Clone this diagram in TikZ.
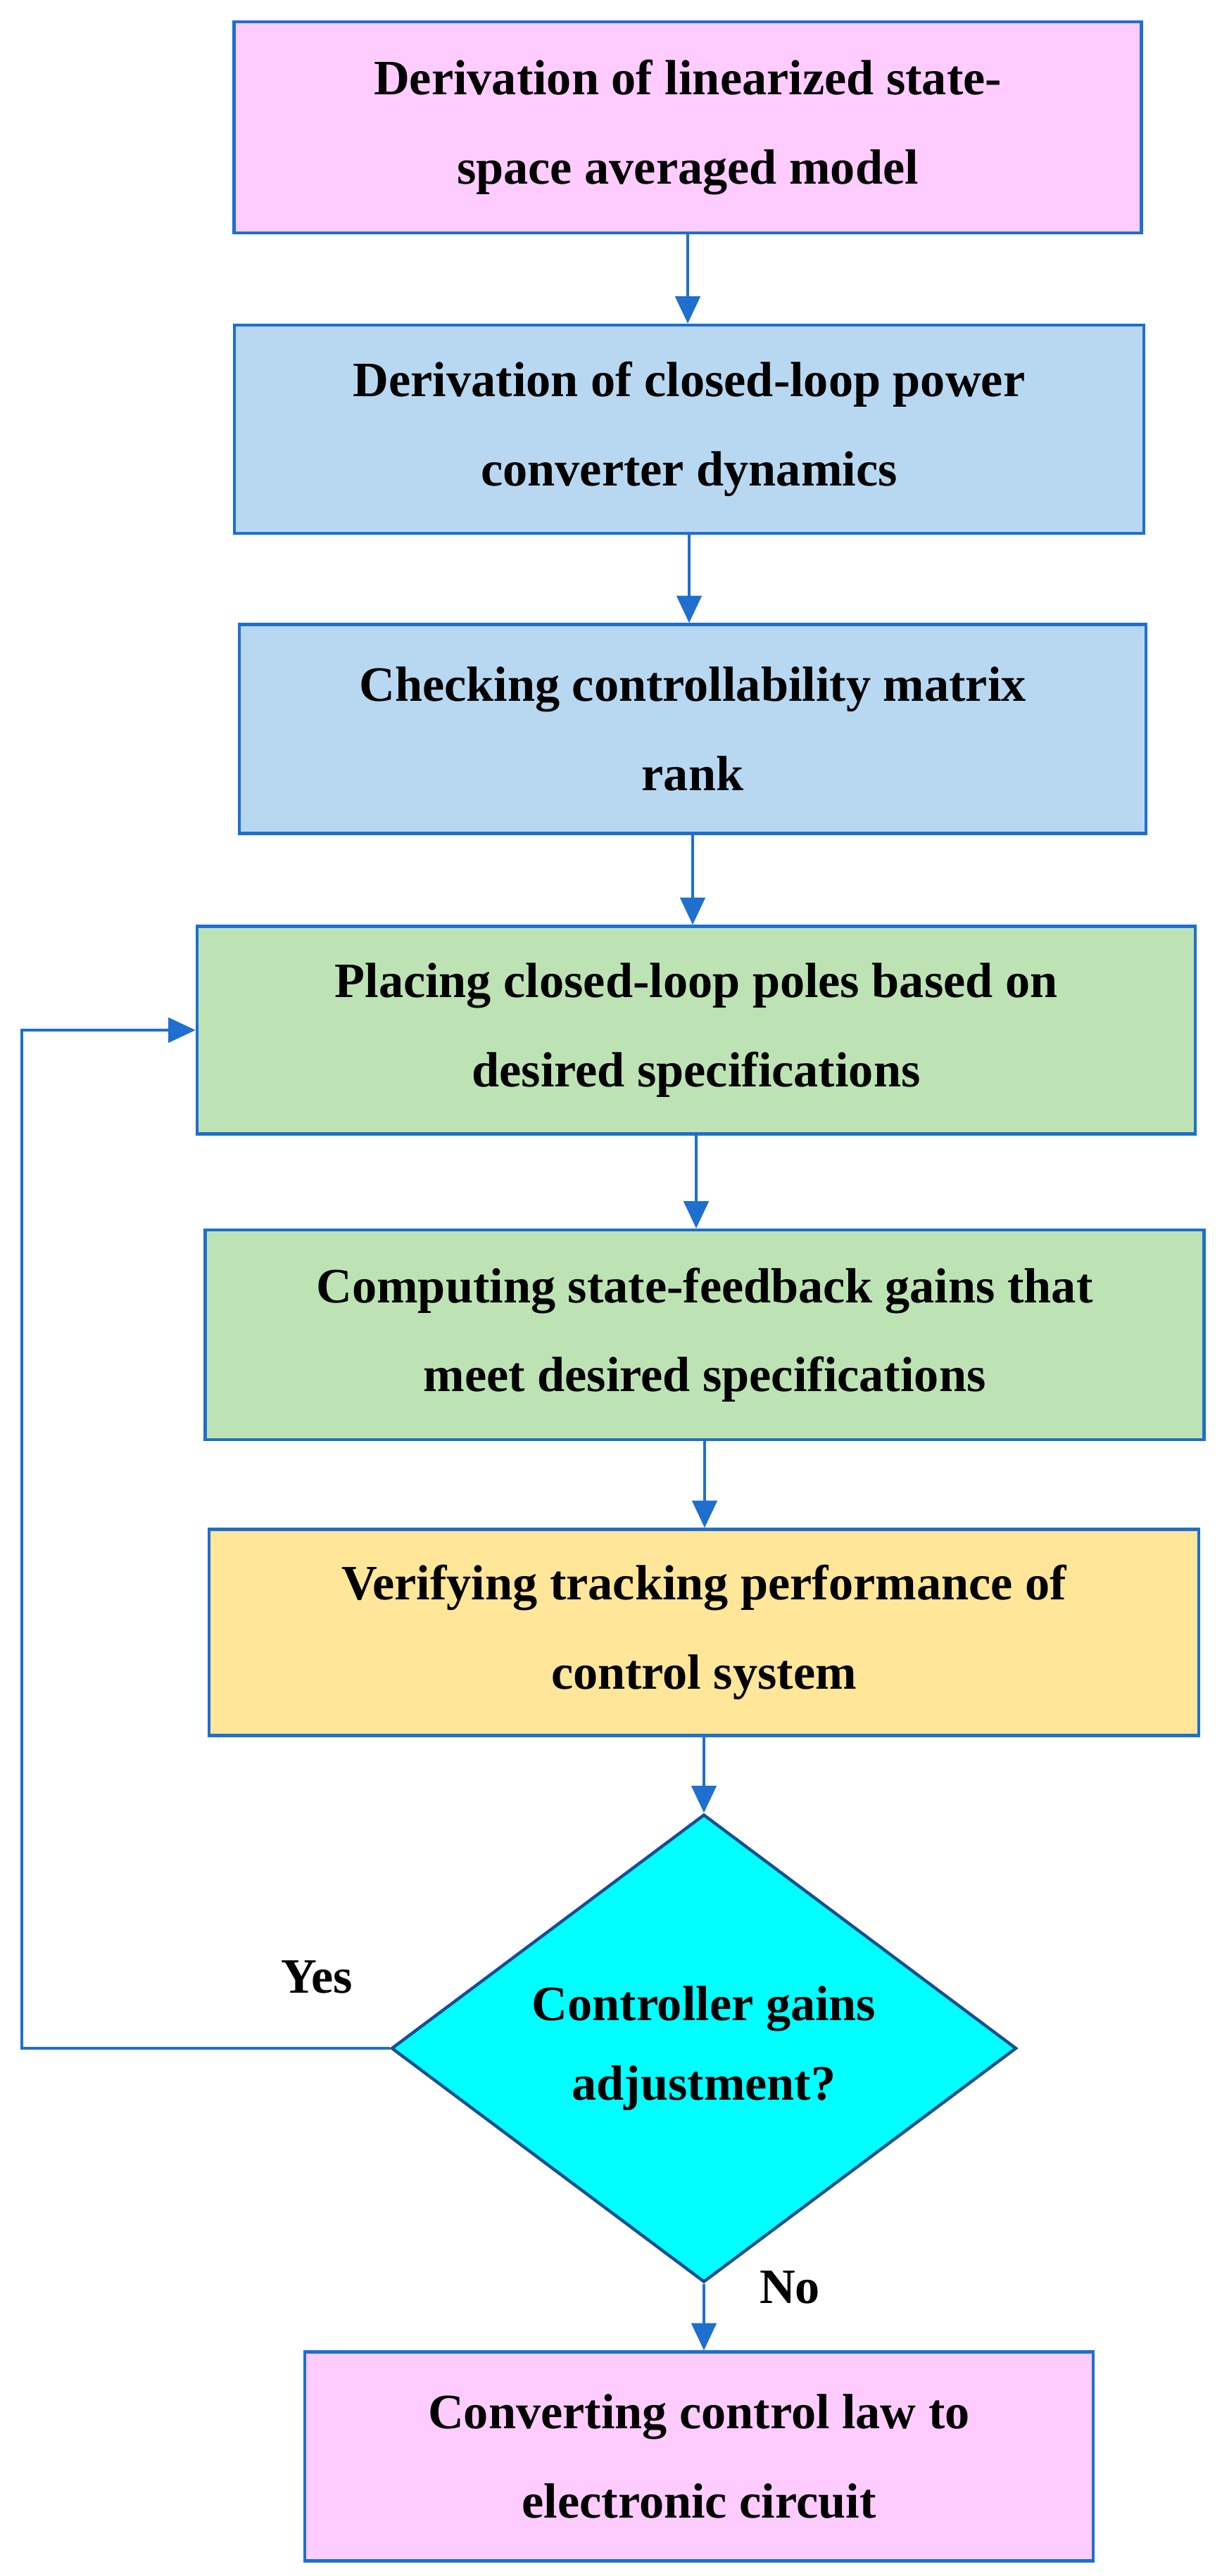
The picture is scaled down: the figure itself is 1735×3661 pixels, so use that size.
\documentclass[tikz,border=0pt]{standalone}
\usepackage{fontspec}
\setmainfont{Liberation Serif}
\usetikzlibrary{shapes.geometric,arrows.meta}
\definecolor{ln}{HTML}{1F6FCF}
\definecolor{pk}{HTML}{FFCCFF}
\definecolor{bl}{HTML}{B7D8F0}
\definecolor{gr}{HTML}{BDE3B5}
\definecolor{ye}{HTML}{FFE699}
\definecolor{cy}{HTML}{00FFFF}
\begin{document}
\begin{tikzpicture}[x=0.02cm,y=-0.02cm,
 box/.style={draw=ln,line width=2.5pt,rectangle,align=center,inner sep=0pt,
   font=\fontsize{40}{72}\selectfont\bfseries},
 arr/.style={draw=ln,line width=2.5pt,-{Triangle[length=22pt,width=20pt]}},
 lab/.style={font=\fontsize{40}{48}\selectfont\bfseries}]
\useasboundingbox (0,0) rectangle (1735,3661);
\node[box,fill=pk,minimum width=1289*0.02cm,minimum height=300*0.02cm] (b1) at (977,181) {Derivation of linearized state-\\space averaged model};
\node[box,fill=bl,minimum width=1292*0.02cm,minimum height=296*0.02cm] (b2) at (979,610) {Derivation of closed-loop power\\converter dynamics};
\node[box,fill=bl,minimum width=1288*0.02cm,minimum height=297*0.02cm] (b3) at (984,1036) {Checking controllability matrix\\rank};
\node[box,fill=gr,minimum width=1418*0.02cm,minimum height=295*0.02cm] (b4) at (989,1464) {Placing closed-loop poles based on\\desired specifications};
\node[box,fill=gr,minimum width=1419*0.02cm,minimum height=298*0.02cm] (b5) at (1001,1897) {Computing state-feedback gains that\\meet desired specifications};
\node[box,fill=ye,minimum width=1406*0.02cm,minimum height=293*0.02cm] (b6) at (1000,2320) {Verifying tracking performance of\\control system};
\node[box,fill=cy,draw=ln!70!black,shape=diamond,minimum width=888*0.02cm,minimum height=597*0.02cm,font=\fontsize{40}{64}\selectfont\bfseries] (d) at (1000,2911) {Controller gains\\adjustment?};
\node[box,fill=pk,minimum width=1120*0.02cm,minimum height=297*0.02cm] (b7) at (993,3491) {Converting control law to\\electronic circuit};
\coordinate (lp) at (31,2911);
\draw[arr] (b1.south) -- (b1.south |- b2.north);
\draw[arr] (b2.south) -- (b2.south |- b3.north);
\draw[arr] (b3.south) -- (b3.south |- b4.north);
\draw[arr] (b4.south) -- (b4.south |- b5.north);
\draw[arr] (b5.south) -- (b5.south |- b6.north);
\draw[arr] (b6.south) -- (d.north);
\draw[arr] (d.south) -- (d.south |- b7.north);
\draw[arr] (d.west) -- (lp) |- (b4.west);
\node[lab] (yes) at (450,2810) {Yes};
\node[lab] (no) at (1122,3251) {No};
\end{tikzpicture}
\end{document}
